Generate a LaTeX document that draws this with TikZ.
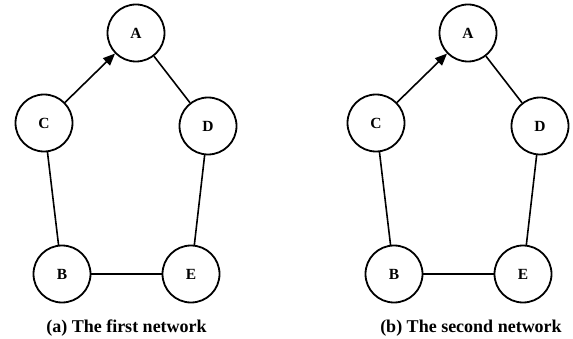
\documentclass[tikz,border=0pt]{standalone}
\usepackage{fontspec}
\setmainfont{Liberation Serif}
\usetikzlibrary{arrows.meta}
\begin{document}
\begin{tikzpicture}[x=1pt,y=-1pt,
  vert/.style={circle,draw,line width=1.8pt,minimum size=57pt,inner sep=0pt,font=\fontsize{15.5}{17}\selectfont\bfseries},
  edge/.style={line width=1.6pt},
  arr/.style={line width=1.6pt,-{Triangle[length=12pt,width=10pt]}},
  captext/.style={font=\fontsize{18}{20}\selectfont\bfseries,inner sep=0pt,anchor=base}]
\useasboundingbox (0,0) rectangle (573,339);
\foreach \dx/\p in {0/l,332/r}{
  \node[vert] (A\p) at (136+\dx,33) {A};
  \node[vert] (C\p) at (44+\dx,123) {C};
  \node[vert] (D\p) at (208+\dx,126) {D};
  \node[vert] (B\p) at (62+\dx,274) {B};
  \node[vert] (E\p) at (191+\dx,274) {E};
  \draw[arr] (C\p) -- (A\p);
  \draw[edge] (A\p) -- (D\p);
  \draw[edge] (C\p) -- (B\p);
  \draw[edge] (D\p) -- (E\p);
  \draw[edge] (B\p) -- (E\p);
}
\node[captext] (capa) at (126.5,332) {(a) The first network};
\node[captext] (capb) at (471,332) {(b) The second network};
\end{tikzpicture}
\end{document}
